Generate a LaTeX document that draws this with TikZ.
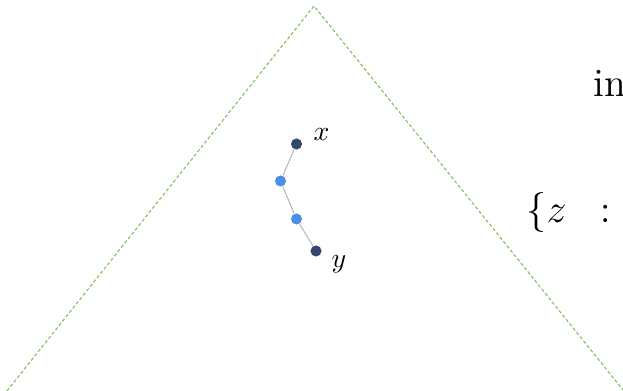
\documentclass[tikz,border=0pt]{standalone}
\begin{document}
\begin{tikzpicture}[x=0.36pt,y=-0.36pt,
  bound/.style={draw={rgb,255:red,130;green,190;blue,100}, line width=0.4pt, dash pattern=on 1.2pt off 0.8pt},
  darkdot/.style={circle, fill={rgb,255:red,52;green,70;blue,110}, minimum size=4pt, inner sep=0pt},
  bluedot/.style={circle, fill={rgb,255:red,74;green,143;blue,226}, minimum size=4pt, inner sep=0pt},
  link/.style={draw={rgb,255:red,180;green,180;blue,180}, line width=0.35pt},
  lbl/.style={inner sep=0pt}]
\useasboundingbox (0,0) rectangle (623,391);
\begin{scope}
\clip (0,0) rectangle (623,391);
\coordinate (apex) at (314,6);
\coordinate (bl) at (0,399.6);
\coordinate (br) at (629.5,398);
\draw[bound] (bl) -- (apex) -- (br);
\node[anchor=base west, lbl] (t1) at (593,97) {\Large in};
\node[anchor=base west, lbl] (t2) at (526,223) {\Large $\{z$\hspace{12pt}$:$};
\end{scope}
\node[darkdot] (a) at (296.5,144) {};
\node[bluedot] (b) at (280.5,181) {};
\node[bluedot] (c) at (296.5,219) {};
\node[darkdot] (d) at (316,251) {};
\draw[link] (a) -- (b) -- (c) -- (d);
\node[lbl] (lx) at (321.5,135) {$x$};
\node[lbl] (ly) at (339,264) {$y$};
\end{tikzpicture}
\end{document}
